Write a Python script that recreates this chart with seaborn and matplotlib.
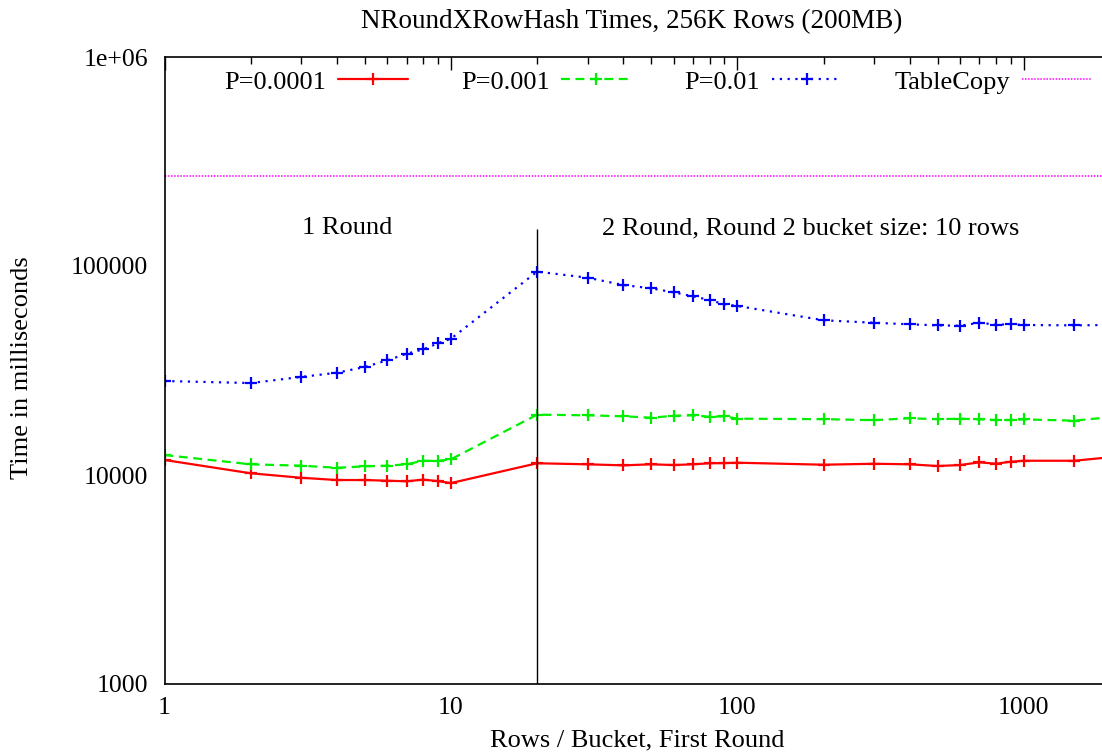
import numpy as np
import pandas as pd
import seaborn as sns
import matplotlib
matplotlib.use("Agg")
from matplotlib import pyplot as plt
from matplotlib.ticker import LogLocator, NullFormatter

sns.set_style("white")
plt.rcParams['font.family'] = ['Liberation Serif', 'DejaVu Serif']
plt.rcParams['text.color'] = 'black'
# -------------------------------------
# data
rows_per_bucket = [1, 2, 3, 4, 5, 6, 7, 8, 9, 10,
                   20, 30, 40, 50, 60, 70, 80, 90, 100,
                   200, 300, 400, 500, 600, 700, 800, 900, 1000, 1500, 2000]
p0001 = [11800, 10190, 9700, 9460, 9460, 9390, 9330, 9500, 9350, 9150,
         11380, 11250, 11120, 11250, 11160, 11250, 11380, 11400, 11450,
         11200, 11320, 11250, 11040, 11160, 11500, 11320, 11580, 11700, 11700, 12160]
p001 = [12460, 11250, 11080, 10830, 11000, 11080, 11250, 11700, 11670, 11890,
        19440, 19300, 19100, 18800, 19200, 19300, 19000, 19100, 18600,
        18500, 18300, 18680, 18500, 18600, 18450, 18330, 18330, 18450, 18200, 18900]
p01 = [28170, 27540, 29450, 30860, 32860, 35390, 38020, 39900, 42650, 44870,
       94000, 87900, 81100, 78200, 74800, 71600, 68700, 65600, 64400,
       55000, 53500, 52600, 52000, 51800, 53500, 52400, 52600, 52200, 52000, 52200]
tablecopy = 271000
seriesnames = ["P=0.0001", "P=0.001", "P=0.01"]
seriesvals = [p0001, p001, p01]
seriescolors = ["#ff0000", "#00ee00", "#0000ff"]
seriesstyles = ["-", (0, (4, 2.5)), (0, (1, 2.5))]
divider_x = 20
divider_top = 150000
# -------------------------------------
fh = plt.figure(figsize=(11.02, 7.55), dpi=100)
ah = fh.add_axes([164.5/1102, 71/755, 945.5/1102, 627/755])

for name, vals, col, ls in zip(seriesnames, seriesvals, seriescolors, seriesstyles):
    df = pd.DataFrame({"x": rows_per_bucket, "y": vals})
    sns.lineplot(data=df, x="x", y="y", ax=ah, color=col, linestyle=ls,
                 marker="+", markersize=8, markeredgewidth=1.6, markeredgecolor=col,
                 linewidth=1.6, label=name)
ah.axhline(tablecopy, color="#ff00ff", linestyle=(0, (1, 1)), linewidth=1.1, label="TableCopy")
ah.vlines(divider_x, 1000, divider_top, color="black", linewidth=1.0)

ah.set_xscale("log")
ah.set_yscale("log")
ah.set_xlim(1, 2000)
ah.set_ylim(1000, 1e6)
ah.set_xticks([1, 10, 100, 1000], labels=["1", "10", "100", "1000"])
ah.set_yticks([1e3, 1e4, 1e5, 1e6], labels=["1000", "10000", "100000", "1e+06"])
ah.xaxis.set_minor_locator(LogLocator(base=10, subs=np.arange(2, 10)))
ah.yaxis.set_minor_locator(LogLocator(base=10, subs=np.arange(2, 10)))
ah.xaxis.set_minor_formatter(NullFormatter())
ah.yaxis.set_minor_formatter(NullFormatter())
ah.tick_params(axis="both", which="both", direction="in", top=True, right=False,
               colors="black", labelsize=18.5, width=1)
ah.tick_params(axis="both", which="major", length=9)
ah.tick_params(axis="both", which="minor", length=5)
ah.tick_params(axis="x", which="major", pad=9)
ah.tick_params(axis="y", which="major", pad=12)
for sp in ah.spines.values():
    sp.set_color("black")
    sp.set_linewidth(1.2)
ah.set_xlabel("")
ah.set_ylabel("")

ah.text(4.34, 152000, "1 Round", fontsize=19, ha="center", va="center")
ah.text(180, 152000, "2 Round, Round 2 bucket size: 10 rows", fontsize=19, ha="center", va="center")

leg = ah.legend(ncol=4, loc="upper center", bbox_to_anchor=(0.522, 1.0), frameon=False,
                markerfirst=False, fontsize=19, handlelength=2.65, columnspacing=2.0,
                handletextpad=0.45, borderaxespad=0.1)
for t in leg.get_texts():
    t.set_color("black")

fh.text(632/1102, 1 - 22/755, "NRoundXRowHash Times, 256K Rows (200MB)", fontsize=19.5,
        ha="center", va="center")
fh.text(637/1102, 1 - 740/755, "Rows / Bucket, First Round", fontsize=19,
        ha="center", va="center")
fh.text(22/1102, 1 - 368/755, "Time in milliseconds", fontsize=19, rotation=90,
        ha="center", va="center")

fh.savefig("out.png", dpi=100)
